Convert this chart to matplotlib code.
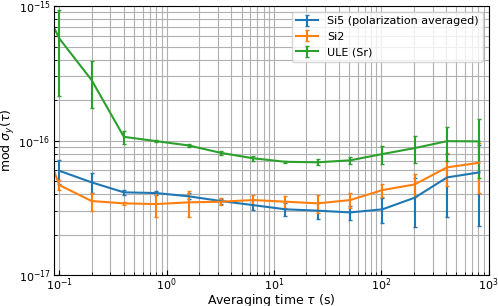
import matplotlib
matplotlib.use("Agg")
import matplotlib.pyplot as plt
import numpy as np

tau = [0.05, 0.1, 0.2, 0.4, 0.8, 1.6, 3.2, 6.4, 12.8, 25.6, 51.2, 102.4, 204.8, 409.6, 819.2]

si5_tau = tau[1:]
si5 = [5.96e-17, 4.89e-17, 4.12e-17, 4.07e-17, 3.85e-17, 3.55e-17, 3.31e-17, 3.08e-17,
       3.01e-17, 2.92e-17, 3.08e-17, 3.76e-17, 5.32e-17, 5.80e-17]
si5_err = [1.2e-17, 8e-18, 2e-18, 1.5e-18, 2e-18, 1.5e-18, 2.8e-18, 3.5e-18,
           4e-18, 3.5e-18, 6.5e-18, 1.5e-17, 2.6e-17, 3.5e-17]

si2 = [2.08e-16, 4.67e-17, 3.55e-17, 3.41e-17, 3.37e-17, 3.47e-17, 3.51e-17, 3.61e-17,
       3.51e-17, 3.41e-17, 3.61e-17, 4.28e-17, 4.72e-17, 6.32e-17, 6.84e-17]
si2_err = [3e-17, 4e-18, 5.5e-18, 1e-18, 6.8e-18, 7.8e-18, 2e-18, 3e-18,
           3.5e-18, 5e-18, 4.5e-18, 4.6e-18, 9e-18, 1.75e-17, 2.8e-17]

ule = [1.8e-15, 5.75e-16, 2.82e-16, 1.066e-16, 9.9e-17, 9.2e-17, 8.1e-17, 7.38e-17,
       6.95e-17, 6.89e-17, 7.13e-17, 7.94e-17, 8.79e-17, 9.9e-17, 9.86e-17]
ule_err = [3e-16, 3.6e-16, 1.07e-16, 1.2e-17, 2e-18, 2e-18, 3e-18, 3e-18,
           1e-18, 3.5e-18, 4.5e-18, 1.2e-17, 2.0e-17, 2.8e-17, 4.6e-17]

plt.rcParams['font.size'] = 8
plt.rcParams['axes.labelsize'] = 9
plt.rcParams['xtick.direction'] = 'in'
plt.rcParams['ytick.direction'] = 'in'
plt.rcParams['xtick.major.pad'] = 1.0
plt.rcParams['ytick.major.pad'] = 2.5
fig = plt.figure(figsize=(4.98, 3.06), dpi=100)
ax = fig.add_axes([0.1084, 0.1013, 0.8729, 0.8787])

ax.errorbar(si5_tau, si5, yerr=si5_err, capsize=1.5, label='Si5 (polarization averaged)')
ax.errorbar(tau, si2, yerr=si2_err, capsize=1.5, label='Si2')
ax.errorbar(tau, ule, yerr=ule_err, capsize=1.5, label='ULE (Sr)')

ax.set_xscale('log')
ax.set_yscale('log')
ax.set_xlim(0.0893, 1000)
ax.set_ylim(1e-17, 1e-15)
ax.grid(True, which='both')
ax.set_xlabel(r'Averaging time $\tau$ (s)', labelpad=-1)
ax.set_ylabel(r'mod $\sigma_y(\tau)$', labelpad=1)
ax.legend(loc='upper right')

fig.savefig('out.png', dpi=100)
